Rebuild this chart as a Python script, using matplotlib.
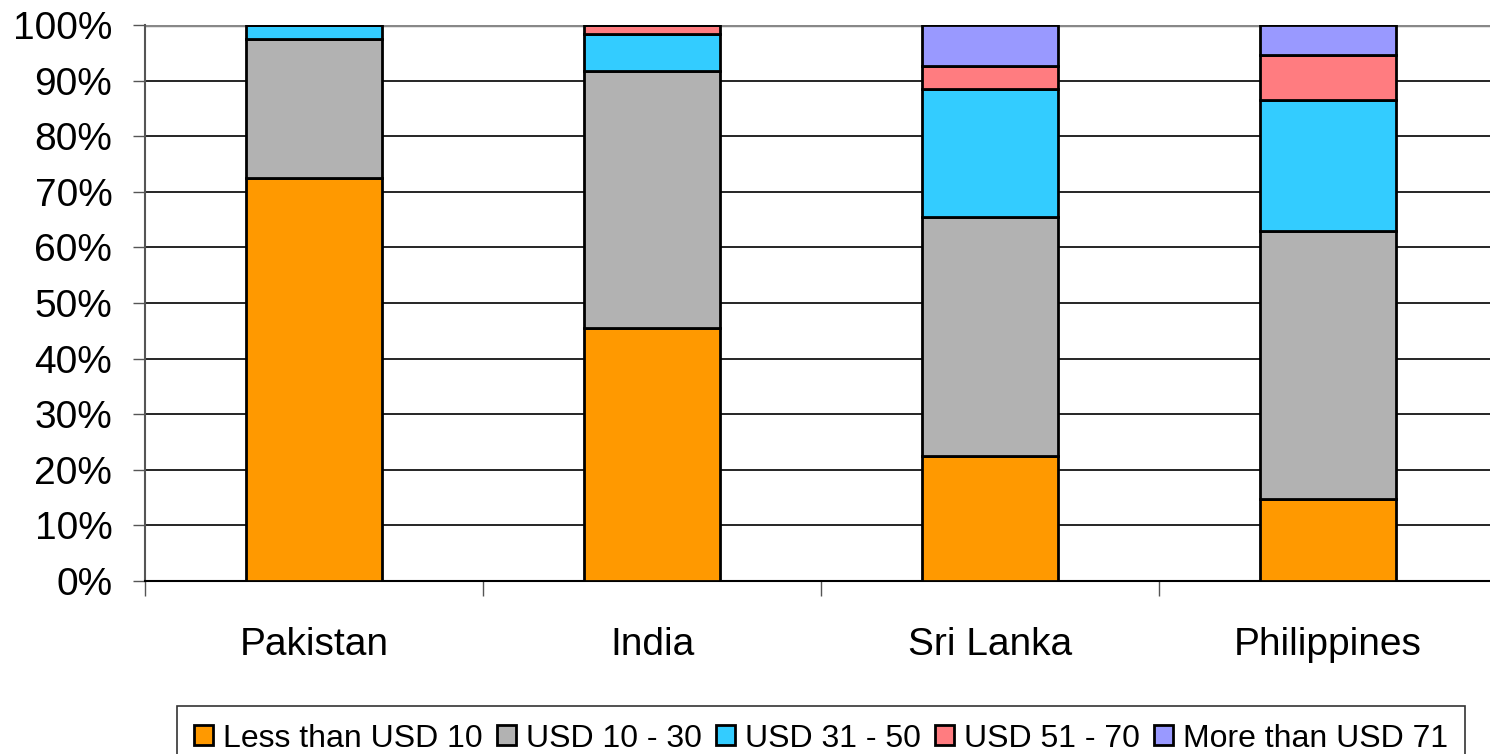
import numpy as np
import matplotlib
matplotlib.use("Agg")
import matplotlib.pyplot as plt

plt.rcParams['font.family'] = ['Liberation Sans', 'DejaVu Sans']

countries = ["Pakistan", "India", "Sri Lanka", "Philippines"]
series = ["Less than USD 10", "USD 10 - 30", "USD 31 - 50", "USD 51 - 70", "More than USD 71"]
less_10 = [72.5, 45.5, 22.5, 14.7]
usd_10_30 = [25.0, 46.2, 43.0, 48.3]
usd_31_50 = [2.5, 6.7, 23.0, 23.5]
usd_51_70 = [0.0, 1.6, 4.2, 8.1]
more_71 = [0.0, 0.0, 7.3, 5.4]
colors = ["#FF9900", "#B2B2B2", "#33CCFF", "#FF7C80", "#9999FF"]

values = [less_10, usd_10_30, usd_31_50, usd_51_70, more_71]

fig = plt.figure(figsize=(14.9, 7.54), dpi=100)
ax = fig.add_axes([145/1490, 1 - 581/754, (1497 - 145)/1490, (581 - 25)/754])

x = np.arange(len(countries))
bottom = np.zeros(len(countries))
for name, vals, c in zip(series, values, colors):
    vals = np.array(vals)
    ax.bar(x, vals, 0.4, bottom=bottom, color=c, edgecolor="black",
           linewidth=2, label=name, zorder=3)
    bottom += vals

ax.set_xlim(-0.5, 3.5)
ax.set_ylim(0, 100)
ax.set_yticks(np.arange(0, 101, 10))
ax.set_yticklabels([f"{v}%" for v in range(0, 101, 10)], fontsize=28)
ax.yaxis.grid(True, color="black", linewidth=1.2)
ax.set_axisbelow(True)

# category boundaries get the ticks, names sit between them
ax.set_xticks(np.arange(-0.5, 4, 1))
ax.set_xticklabels([])
ax.set_xticks(x, minor=True)
ax.set_xticklabels(countries, minor=True, fontsize=28)
ax.tick_params(axis="x", which="minor", length=0, pad=33)
ax.tick_params(axis="x", which="major", length=11, width=1, color="#555555")
ax.tick_params(axis="y", length=8.5, width=1, color="#555555", pad=15)

for s in ["top", "right"]:
    ax.spines[s].set_visible(False)
ax.spines["left"].set_color("#555555")
ax.spines["left"].set_linewidth(1.5)
ax.spines["bottom"].set_color("black")
ax.spines["bottom"].set_linewidth(1.5)
ax.axhline(100, color="#888888", linewidth=2.5, zorder=2)

leg = fig.legend(loc="upper center", bbox_to_anchor=(821/1490, 1 - 706/754),
                 ncol=5, fontsize=23, frameon=True, fancybox=False,
                 edgecolor="black", handlelength=0.6, handleheight=0.6,
                 handletextpad=0.3, columnspacing=0.45, borderpad=0.55,
                 borderaxespad=0)
leg.get_frame().set_linewidth(1.2)

fig.savefig("out.png", dpi=100)
